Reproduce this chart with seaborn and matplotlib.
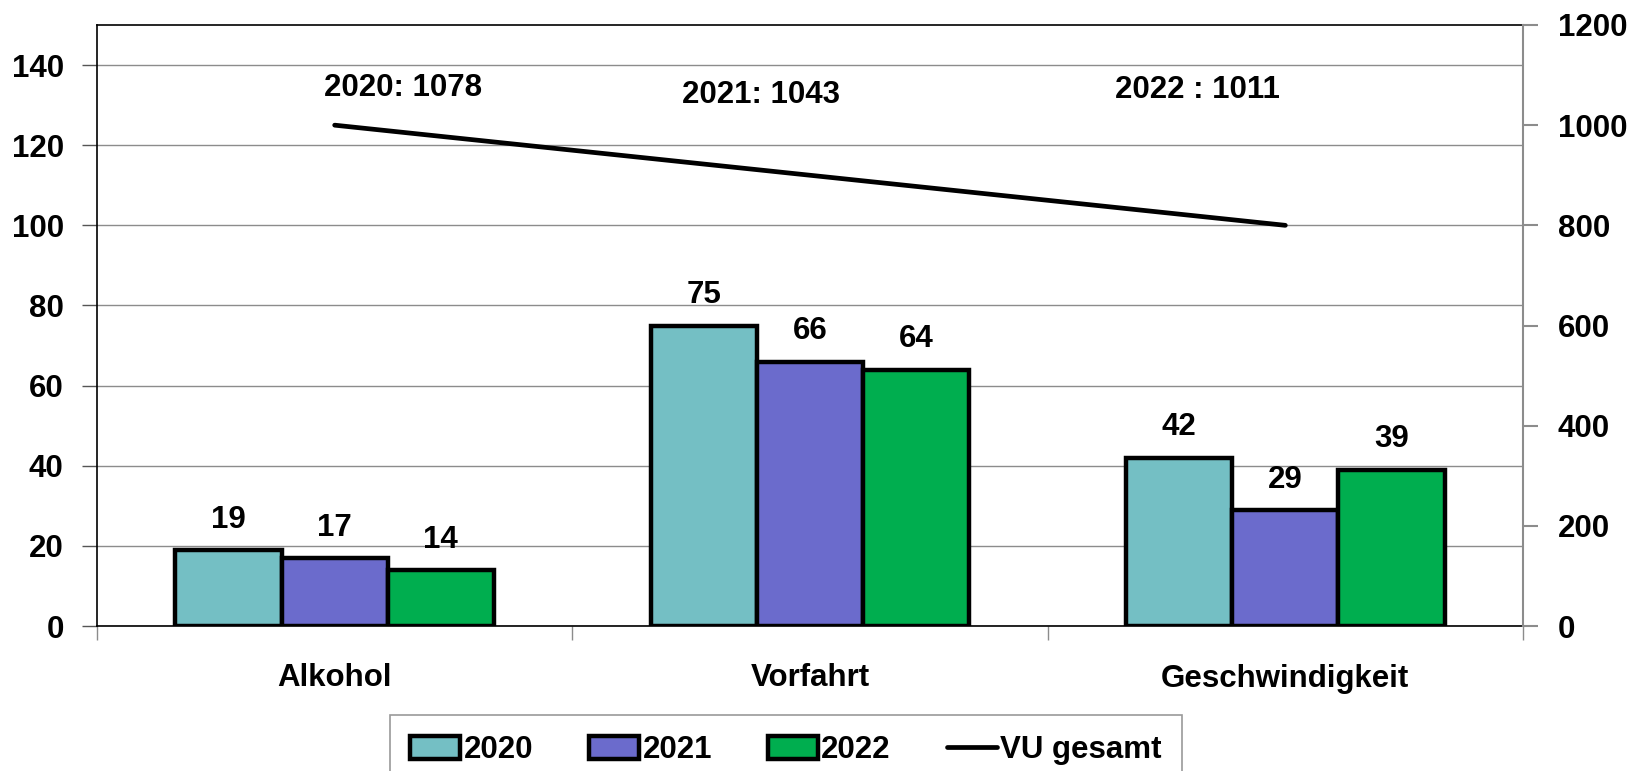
import numpy as np
import pandas as pd
import matplotlib
matplotlib.use("Agg")
import matplotlib.pyplot as plt
import seaborn as sns
from matplotlib.patches import Patch
from matplotlib.lines import Line2D

categories = ["Alkohol", "Vorfahrt", "Geschwindigkeit"]
years = ["2020", "2021", "2022"]
values_2020 = [19, 75, 42]
values_2021 = [17, 66, 29]
values_2022 = [14, 64, 39]
vu_gesamt = [1000, 900, 800]
vu_labels = ["2020: 1078", "2021: 1043", "2022 : 1011"]
vu_label_x = [0.144, 0.897, 1.816]
vu_label_y = [1074, 1060, 1070]
left_ticks = [0, 20, 40, 60, 80, 100, 120, 140]
right_ticks = [0, 200, 400, 600, 800, 1000, 1200]
colors = ["#74BFC4", "#6B6BCC", "#00AE4F"]

sns.set_theme(style="white")
plt.rcParams['font.family'] = ['Liberation Sans', 'DejaVu Sans']
plt.rcParams['font.weight'] = 'bold'
plt.rcParams['text.color'] = 'black'
plt.rcParams['xtick.color'] = 'black'
plt.rcParams['ytick.color'] = 'black'
plt.rcParams['xtick.labelcolor'] = 'black'
plt.rcParams['ytick.labelcolor'] = 'black'

df = pd.DataFrame({
    "Kategorie": categories * 3,
    "Jahr": [y for y in years for _ in categories],
    "Wert": values_2020 + values_2021 + values_2022,
})

fig = plt.figure(figsize=(16.34, 7.71), dpi=100)
ax = fig.add_axes([97/1634, 1-626/771, (1523-97)/1634, (626-25)/771])

sns.barplot(data=df, x="Kategorie", y="Wert", hue="Jahr", palette=colors,
            width=0.67, gap=0, edgecolor="black", linewidth=3.2,
            saturation=1, ax=ax, legend=False, errorbar=None)

FS = 22.5
for cont in ax.containers:
    ax.bar_label(cont, fmt="%d", padding=11, fontsize=FS, fontweight="bold", color="black")

ax.set_ylim(0, 150)
ax.set_xlim(-0.5, 2.5)
ax.set_yticks(left_ticks)
ax.set_yticklabels([str(t) for t in left_ticks], fontsize=FS, fontweight="bold")
ax.yaxis.grid(True, color="#8c8c8c", linewidth=1)
ax.set_axisbelow(True)
ax.set_xlabel("")
ax.set_ylabel("")
ax.set_xticks([0, 1, 2])
ax.set_xticklabels(categories, fontsize=FS, fontweight="bold")
ax.set_xticks([-0.5, 0.5, 1.5, 2.5], minor=True)
ax.tick_params(axis="x", which="major", length=0, pad=27)
ax.tick_params(axis="x", which="minor", length=10, width=1, color="#8c8c8c", direction="out", bottom=True)
ax.tick_params(axis="y", length=11, width=1, color="#555555", direction="out", pad=13, left=True)
for s in ["left", "top", "bottom"]:
    ax.spines[s].set_color("black")
    ax.spines[s].set_linewidth(1.2)
ax.spines["right"].set_visible(False)

ax2 = ax.twinx()
sns.lineplot(x=categories, y=vu_gesamt, ax=ax2, color="black", linewidth=3.4,
             solid_capstyle="round", legend=False)
ax2.set_ylim(0, 1200)
ax2.set_yticks(right_ticks)
ax2.set_yticklabels([str(t) for t in right_ticks], fontsize=FS, fontweight="bold")
ax2.tick_params(axis="y", length=11, width=1.5, color="#8c8c8c", direction="out", pad=14, right=True)
ax2.set_ylabel("")
ax2.grid(False)
for s in ["left", "top", "bottom"]:
    ax2.spines[s].set_visible(False)
ax2.spines["right"].set_color("#8c8c8c")
ax2.spines["right"].set_linewidth(1.5)

for lx, ly, lt in zip(vu_label_x, vu_label_y, vu_labels):
    ax2.text(lx, ly, lt, ha="center", va="center", fontsize=FS, fontweight="bold", color="black")

handles = [Patch(facecolor=c, edgecolor="black", linewidth=3.2) for c in colors]
handles.append(Line2D([0], [0], color="black", linewidth=3.4))
leg = fig.legend(handles, years + ["VU gesamt"], loc="upper center",
                 bbox_to_anchor=(786/1634, 1-715/771), ncol=4, frameon=True,
                 fancybox=False, edgecolor="#808080", fontsize=FS,
                 handlelength=1.6, handleheight=0.8, handletextpad=0.1,
                 columnspacing=1.8, borderpad=0.65, borderaxespad=0)
leg.get_frame().set_linewidth(1.2)
for t in leg.get_texts():
    t.set_fontweight("bold")
    t.set_color("black")

fig.savefig("out.png", dpi=100)
